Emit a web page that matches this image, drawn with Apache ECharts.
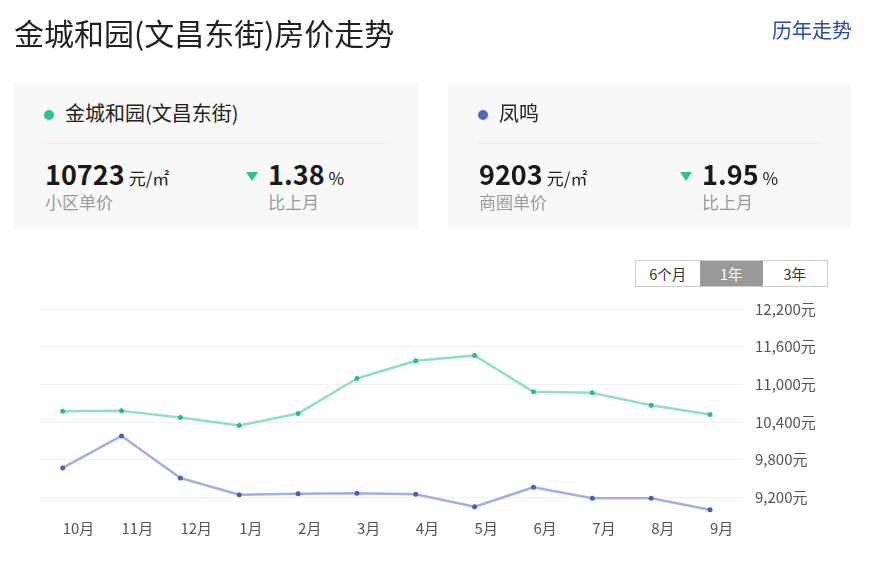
<!DOCTYPE html>
<html lang="zh-CN">
<head>
<meta charset="utf-8">
<title>金城和园(文昌东街)房价走势</title>
<script src="https://cdn.jsdelivr.net/npm/echarts@6/dist/echarts.min.js"></script>
<style>
  html, body { margin: 0; padding: 0; background: #fff; }
  body { width: 875px; height: 561px; position: relative; overflow: hidden;
         font-family: "Noto Sans CJK SC", "Noto Sans", sans-serif; color: #222; }
  #chart { position: absolute; left: 0; top: 0; width: 875px; height: 561px; }
  .abs { position: absolute; white-space: nowrap; }
  .title { left: 14px; top: 12px; font-size: 30px; line-height: 40px; color: #222; }
  .history { right: 23px; top: 18px; font-size: 20px; line-height: 24px; color: #2a4aa8; }
  .card { position: absolute; top: 84px; height: 144px; background: #f8f8f8; }
  .dot { position: absolute; left: 30px; top: 26px; width: 10px; height: 10px; border-radius: 50%; }
  .name { position: absolute; left: 51px; top: 17px; font-size: 20px; line-height: 24px; color: #222; }
  .divider { position: absolute; left: 30px; right: 30px; top: 59px; height: 1px; background: #ebebeb; }
  .stat { position: absolute; top: 75px; line-height: 30px; white-space: nowrap; }
  .big { font-size: 27px; font-weight: bold; color: #1a1a1a; }
  .unit { font-size: 17px; color: #222; margin-left: 4px; }
  .sub { position: absolute; top: 108px; font-size: 17px; line-height: 20px; color: #999; }
  .tri { position: absolute; left: 232px; top: 88px; width: 0; height: 0;
         border-left: 6px solid transparent; border-right: 6px solid transparent; border-top: 9px solid #2bc48a; }
  .seg { position: absolute; left: 635px; top: 260px; height: 25px; border: 1px solid #ccc; display: flex; background: #fff; }
  .seg div { width: 63.5px; text-align: center; font-size: 14.5px; line-height: 25px; color: #333; }
  .seg div.on { background: #999; color: #fff; }
</style>
</head>
<body>
<div id="chart"></div>

<div class="abs title">金城和园(文昌东街)房价走势</div>
<div class="abs history">历年走势</div>

<div class="card" style="left:14px; width:404px;">
  <div class="dot" style="background:#2bc48a;"></div>
  <div class="name">金城和园(文昌东街)</div>
  <div class="divider"></div>
  <div class="stat" style="left:31px;"><span class="big">10723</span><span class="unit">元/㎡</span></div>
  <div class="sub" style="left:31px;">小区单价</div>
  <div class="tri"></div>
  <div class="stat" style="left:254px;"><span class="big">1.38</span><span class="unit">%</span></div>
  <div class="sub" style="left:254px;">比上月</div>
</div>

<div class="card" style="left:448px; width:403px;">
  <div class="dot" style="background:#5068c4;"></div>
  <div class="name">凤鸣</div>
  <div class="divider"></div>
  <div class="stat" style="left:31px;"><span class="big">9203</span><span class="unit">元/㎡</span></div>
  <div class="sub" style="left:31px;">商圈单价</div>
  <div class="tri"></div>
  <div class="stat" style="left:254px;"><span class="big">1.95</span><span class="unit">%</span></div>
  <div class="sub" style="left:254px;">比上月</div>
</div>

<div class="seg"><div>6个月</div><div class="on">1年</div><div>3年</div></div>

<script>
const months = ['10月', '11月', '12月', '1月', '2月', '3月', '4月', '5月', '6月', '7月', '8月', '9月'];
const communityPrices = [10572, 10577, 10470, 10343, 10534, 11093, 11375, 11460, 10880, 10864, 10668, 10518];
const districtPrices = [9668, 10178, 9508, 9241, 9257, 9264, 9248, 9050, 9360, 9184, 9184, 9002];
const yTicks = [9200, 9800, 10400, 11000, 11600, 12200];
const yMin = 8950;
const yMax = 12200;

const chart = echarts.init(document.getElementById('chart'), null, { renderer: 'canvas' });
const fmt = v => v.toLocaleString('en-US') + '元';
chart.setOption({
  animation: false,
  textStyle: { fontFamily: '"Noto Sans CJK SC", "Noto Sans", sans-serif' },
  grid: [
    { left: 40, right: 132, top: 309, bottom: 48, containLabel: false },
    { left: 62.7, right: 165, top: 309, bottom: 48, containLabel: false }
  ],
  xAxis: [
    { gridIndex: 0, type: 'value', min: 0, max: 1, show: false },
    {
      gridIndex: 1, type: 'category', data: months, boundaryGap: false,
      axisLine: { show: false }, axisTick: { show: false }, splitLine: { show: false },
      axisLabel: { align: 'left', margin: 8, fontSize: 15, color: '#555', interval: 0 }
    }
  ],
  yAxis: [
    {
      gridIndex: 0, type: 'value', position: 'right', min: yMin, max: yMax,
      axisLine: { show: false },
      axisTick: { show: false, customValues: yTicks },
      axisLabel: { customValues: yTicks, margin: 12, fontSize: 15, color: '#555', formatter: fmt },
      splitLine: { show: true, lineStyle: { color: '#f1f1f1', width: 1 } }
    },
    { gridIndex: 1, type: 'value', min: yMin, max: yMax, show: false, splitLine: { show: false } }
  ],
  series: [
    {
      name: '金城和园(文昌东街)', type: 'line', xAxisIndex: 1, yAxisIndex: 1,
      data: communityPrices, symbol: 'circle', symbolSize: 5, showSymbol: true,
      itemStyle: { color: '#2bbd86' },
      lineStyle: { color: '#8fe0c1', width: 2.5 }
    },
    {
      name: '凤鸣', type: 'line', xAxisIndex: 1, yAxisIndex: 1,
      data: districtPrices, symbol: 'circle', symbolSize: 5, showSymbol: true,
      itemStyle: { color: '#4b5dbf' },
      lineStyle: { color: '#a3afe0', width: 2.5 }
    }
  ]
});
</script>
</body>
</html>
